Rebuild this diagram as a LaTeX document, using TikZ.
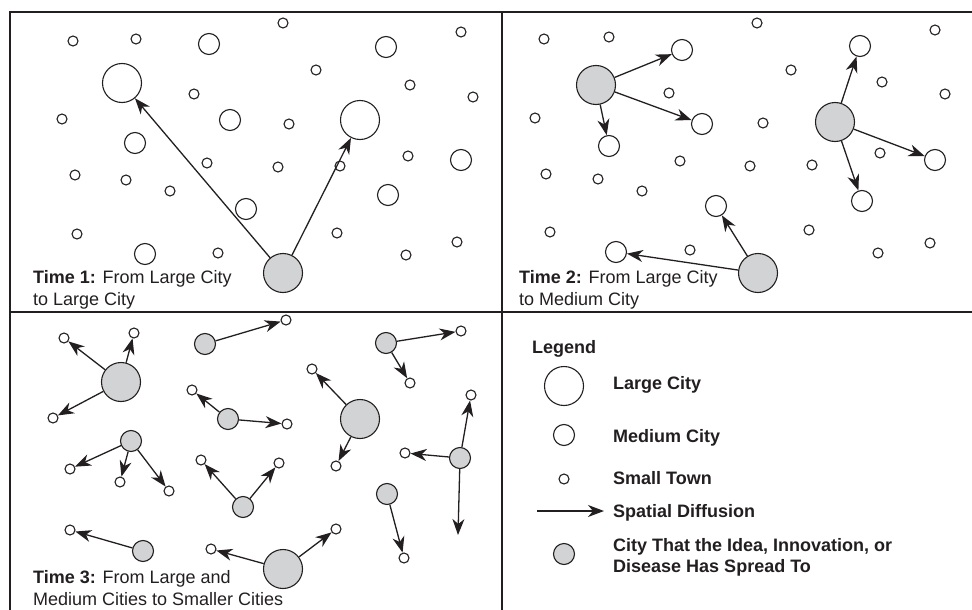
\documentclass[tikz,border=0pt]{standalone}
\usepackage{fontspec}
\setmainfont{Liberation Sans}
\usetikzlibrary{arrows.meta}
\definecolor{ink}{RGB}{35,31,32}
\definecolor{reached}{RGB}{210,211,212}

\begin{document}
\begin{tikzpicture}[x=1pt, y=-1pt, ink]

\tikzset{town/.style = {shape=circle, draw, line width=1.1pt, inner sep=0pt, minimum size=10pt}}
\tikzset{mcity/.style = {town, minimum size=21pt}}
\tikzset{lcity/.style = {town, minimum size=39pt}}
\tikzset{spread/.style = {fill=reached}}
\tikzset{diffuse/.style = {->, > = {Stealth[length=16pt, width=12pt, inset=5pt]}, line width=1.3pt}}
\tikzset{caption/.style = {anchor=base west, align=left, inner sep=0pt, font=\fontsize{18}{22}\selectfont}}
\tikzset{keytext/.style = {caption, font=\fontsize{18}{21}\selectfont\bfseries}}

\useasboundingbox (0,0) rectangle (972,610);
%frame
\draw[line width=2.2pt] (10,610) |- (972,12);
\draw[line width=2.2pt] (502,12) -- (502,610);
\draw[line width=2.2pt] (10,312) -- (972,312);

%time 1
\node[town] (a1) at (73,41) {};
\node[town] (a2) at (136,39) {};
\node[town] (a3) at (283,23) {};
\node[town] (a4) at (461,32) {};
\node[town] (a5) at (316,70) {};
\node[town] (a6) at (410,85) {};
\node[town] (a7) at (473,97) {};
\node[town] (a8) at (194,94) {};
\node[town] (a9) at (62,119) {};
\node[town] (a10) at (289,124) {};
\node[town] (a11) at (408,156) {};
\node[town] (a12) at (207,163) {};
\node[town] (a13) at (278,167) {};
\node[town] (a14) at (340,166) {};
\node[town] (a15) at (75,175) {};
\node[town] (a16) at (126,180) {};
\node[town] (a17) at (170,191) {};
\node[town] (a18) at (77,234) {};
\node[town] (a19) at (218,253) {};
\node[town] (a20) at (337,233) {};
\node[town] (a21) at (406,255) {};
\node[town] (a22) at (457,242) {};
\node[mcity] (am1) at (209,44) {};
\node[mcity] (am2) at (386,47) {};
\node[mcity] (am3) at (230,120) {};
\node[mcity] (am4) at (135,143) {};
\node[mcity] (am5) at (461,160) {};
\node[mcity] (am6) at (388,195) {};
\node[mcity] (am7) at (246,209) {};
\node[mcity] (am8) at (145,254) {};
\node[lcity] (al1) at (122,83) {};
\node[lcity] (al2) at (360,120) {};
\node[lcity, spread] (ag) at (283,273) {};
\draw[diffuse] (ag) -- (al1);
\draw[diffuse] (ag) -- (al2);
\node[caption] (t1) at (33,305) {\textbf{Time 1:} From Large City\\to Large City};

%time 2
\node[town] (b1) at (544,39) {};
\node[town] (b2) at (609,37) {};
\node[town] (b3) at (757,23) {};
\node[town] (b4) at (935,30) {};
\node[town] (b5) at (791,70) {};
\node[town] (b6) at (882,82) {};
\node[town] (b7) at (945,94) {};
\node[town] (b8) at (669,93) {};
\node[town] (b9) at (535,118) {};
\node[town] (b10) at (763,123) {};
\node[town] (b11) at (880,153) {};
\node[town] (b12) at (680,161) {};
\node[town] (b13) at (750,166) {};
\node[town] (b14) at (812,165) {};
\node[town] (b15) at (546,174) {};
\node[town] (b16) at (598,179) {};
\node[town] (b17) at (642,191) {};
\node[town] (b18) at (550,232) {};
\node[town] (b19) at (690,250) {};
\node[town] (b20) at (809,230) {};
\node[town] (b21) at (878,253) {};
\node[town] (b22) at (930,243) {};
\node[mcity] (bm1) at (682,50) {};
\node[mcity] (bm2) at (702,124) {};
\node[mcity] (bm3) at (609,146) {};
\node[mcity] (bm4) at (860,46) {};
\node[mcity] (bm5) at (935,160) {};
\node[mcity] (bm6) at (862,201) {};
\node[mcity] (bm7) at (716,206) {};
\node[mcity] (bm8) at (616,252) {};
\node[lcity, spread] (bg1) at (596,85) {};
\node[lcity, spread] (bg2) at (835,122) {};
\node[lcity, spread] (bg3) at (758,273) {};
\draw[diffuse] (bg1) -- (bm1);
\draw[diffuse] (bg1) -- (bm2);
\draw[diffuse] (bg1) -- (bm3);
\draw[diffuse] (bg2) -- (bm4);
\draw[diffuse] (bg2) -- (bm5);
\draw[diffuse] (bg2) -- (bm6);
\draw[diffuse] (bg3) -- (bm7);
\draw[diffuse] (bg3) -- (bm8);
\node[caption] (t2) at (519,305) {\textbf{Time 2:} From Large City\\to Medium City};

%time 3
\node[lcity, spread] (c1) at (121,382) {};
\node[town] (c1a) at (64,338) {};
\node[town] (c1b) at (134,333) {};
\node[town] (c1c) at (53,418) {};
\node[mcity, spread] (c2) at (205,344) {};
\node[town] (c2a) at (286,320) {};
\node[mcity, spread] (c3) at (386,343) {};
\node[town] (c3a) at (461,331) {};
\node[town] (c3b) at (410,383) {};
\node[mcity, spread] (c4) at (228,419) {};
\node[town] (c4a) at (192,390) {};
\node[town] (c4b) at (287,424) {};
\node[lcity, spread] (c5) at (360,419) {};
\node[town] (c5a) at (312,369) {};
\node[town] (c5b) at (336,466) {};
\node[mcity, spread] (c6) at (131,441) {};
\node[town] (c6a) at (70,469) {};
\node[town] (c6b) at (120,482) {};
\node[town] (c6c) at (169,491) {};
\node[mcity, spread] (c7) at (243,507) {};
\node[town] (c7a) at (201,460) {};
\node[town] (c7b) at (279,463) {};
\node[mcity, spread] (c8) at (460,458) {};
\node[town] (c8a) at (471,395) {};
\node[town] (c8b) at (405,453) {};
\coordinate (c8c) at (458,535);
\node[mcity, spread] (c9) at (387,494) {};
\node[town] (c9a) at (404,558) {};
\node[mcity, spread] (c10) at (143,551) {};
\node[town] (c10a) at (70,530) {};
\node[lcity, spread] (c11) at (283,569) {};
\node[town] (c11a) at (211,549) {};
\node[town] (c11b) at (336,529) {};
\draw[diffuse] (c1) -- (c1a);
\draw[diffuse] (c1) -- (c1b);
\draw[diffuse] (c1) -- (c1c);
\draw[diffuse] (c2) -- (c2a);
\draw[diffuse] (c3) -- (c3a);
\draw[diffuse] (c3) -- (c3b);
\draw[diffuse] (c4) -- (c4a);
\draw[diffuse] (c4) -- (c4b);
\draw[diffuse] (c5) -- (c5a);
\draw[diffuse] (c5) -- (c5b);
\draw[diffuse] (c6) -- (c6a);
\draw[diffuse] (c6) -- (c6b);
\draw[diffuse] (c6) -- (c6c);
\draw[diffuse] (c7) -- (c7a);
\draw[diffuse] (c7) -- (c7b);
\draw[diffuse] (c8) -- (c8a);
\draw[diffuse] (c8) -- (c8b);
\draw[diffuse] (c8) -- (c8c);
\draw[diffuse] (c9) -- (c9a);
\draw[diffuse] (c10) -- (c10a);
\draw[diffuse] (c11) -- (c11a);
\draw[diffuse] (c11) -- (c11b);
\node[caption] (t3) at (33,605) {\textbf{Time 3:} From Large and\\Medium Cities to Smaller Cities};

%legend
\node[keytext] (kt) at (532,353) {Legend};
\node[lcity] (k1) at (564,386) {};
\node[mcity] (k2) at (564,435) {};
\node[town] (k3) at (564,479) {};
\coordinate (k4a) at (537,511);
\coordinate (k4b) at (604,511);
\draw[diffuse] (k4a) -- (k4b);
\node[mcity, spread] (k5) at (564,554) {};
\node[keytext] (k1t) at (613,389) {Large City};
\node[keytext] (k2t) at (613,442) {Medium City};
\node[keytext] (k3t) at (613,484) {Small Town};
\node[keytext] (k4t) at (613,517) {Spatial Diffusion};
\node[keytext] (k5t) at (613,572) {City That the Idea, Innovation, or\\Disease Has Spread To};

\end{tikzpicture}
\end{document}
